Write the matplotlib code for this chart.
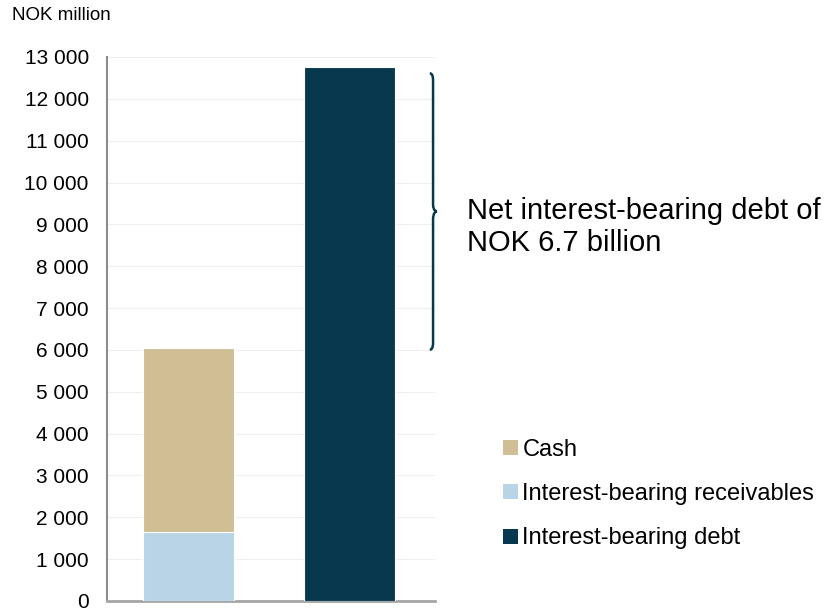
import numpy as np
import matplotlib.pyplot as plt
from matplotlib.path import Path
from matplotlib.patches import PathPatch, Patch
from matplotlib.ticker import FuncFormatter, MultipleLocator
import matplotlib.transforms as mtransforms

plt.rcParams['font.family'] = ['Liberation Sans', 'DejaVu Sans']

# values (NOK million)
positions = [0, 1]
receivables = [1650, 0]
cash = [4395, 0]
debt = [0, 12760]
series_labels = ['Cash', 'Interest-bearing receivables', 'Interest-bearing debt']
note = 'Net interest-bearing debt of\nNOK 6.7 billion'

c_cash = '#D0BF94'
c_recv = '#B9D4E6'
c_debt = '#07384D'

fig = plt.figure(figsize=(8.28, 6.1), dpi=100)
ax = fig.add_axes([0.129, 0.0148, 0.396, 0.8918])

w = 0.565
ax.bar(positions, receivables, w, color=c_recv, edgecolor='white', linewidth=0.8, zorder=3)
ax.bar(positions, cash, w, bottom=receivables, color=c_cash, edgecolor='white', linewidth=0.8, zorder=3)
ax.bar(positions, debt, w, color=c_debt, edgecolor='white', linewidth=0.8, zorder=3)

ax.set_xlim(-0.506, 1.531)
ax.set_ylim(0, 13000)
ax.yaxis.set_major_locator(MultipleLocator(1000))
ax.yaxis.set_major_formatter(FuncFormatter(lambda v, p: f'{int(v):,}'.replace(',', ' ')))
ax.set_xticks([])
ax.tick_params(axis='y', length=0, pad=13, labelsize=15)
ax.grid(axis='y', color='#EFEFEF', linewidth=0.8, zorder=0)
for s in ['top', 'right']:
    ax.spines[s].set_visible(False)
ax.spines['left'].set_color('#8C8C8C')
ax.spines['left'].set_linewidth(1.5)
ax.spines['bottom'].set_color('#A6A6A6')
ax.spines['bottom'].set_linewidth(2)

fig.text(0.014, 0.974, 'NOK million', fontsize=13.5, va='center', ha='left')

# curly brace between top of assets and top of debt
top = debt[1] - 150
bot = receivables[0] + cash[0] - 40
mid = (top + bot) / 2
d = 170
xa, xb, xc = 0.985, 0.995, 1.007
verts = [(xa, top), (xb, top), (xb, top - d),
         (xb, mid + d),
         (xb, mid), (xc, mid), (xc, mid),
         (xb, mid), (xb, mid - d), (xb, mid - d),
         (xb, bot + d),
         (xb, bot), (xa, bot)]
codes = [Path.MOVETO, Path.CURVE3, Path.CURVE3,
         Path.LINETO,
         Path.CURVE4, Path.CURVE4, Path.CURVE4,
         Path.CURVE4, Path.CURVE4, Path.CURVE4,
         Path.LINETO,
         Path.CURVE3, Path.CURVE3]
trans = mtransforms.blended_transform_factory(ax.transAxes, ax.transData)
ax.add_patch(PathPatch(Path(verts, codes), transform=trans, facecolor='none',
                       edgecolor=c_debt, linewidth=1.8, clip_on=False, zorder=6))

ax.text(1.10, mid - 370, note, transform=trans, fontsize=21, va='center', ha='left')

handles = [Patch(facecolor=c, edgecolor='none') for c in (c_cash, c_recv, c_debt)]
fig.legend(handles, series_labels, loc='upper left', bbox_to_anchor=(0.608, 0.281),
           frameon=False, fontsize=17, handlelength=0.6, handleheight=0.6,
           handletextpad=0.2, labelspacing=0.95, borderpad=0, borderaxespad=0)

fig.savefig('out.png', dpi=100)
